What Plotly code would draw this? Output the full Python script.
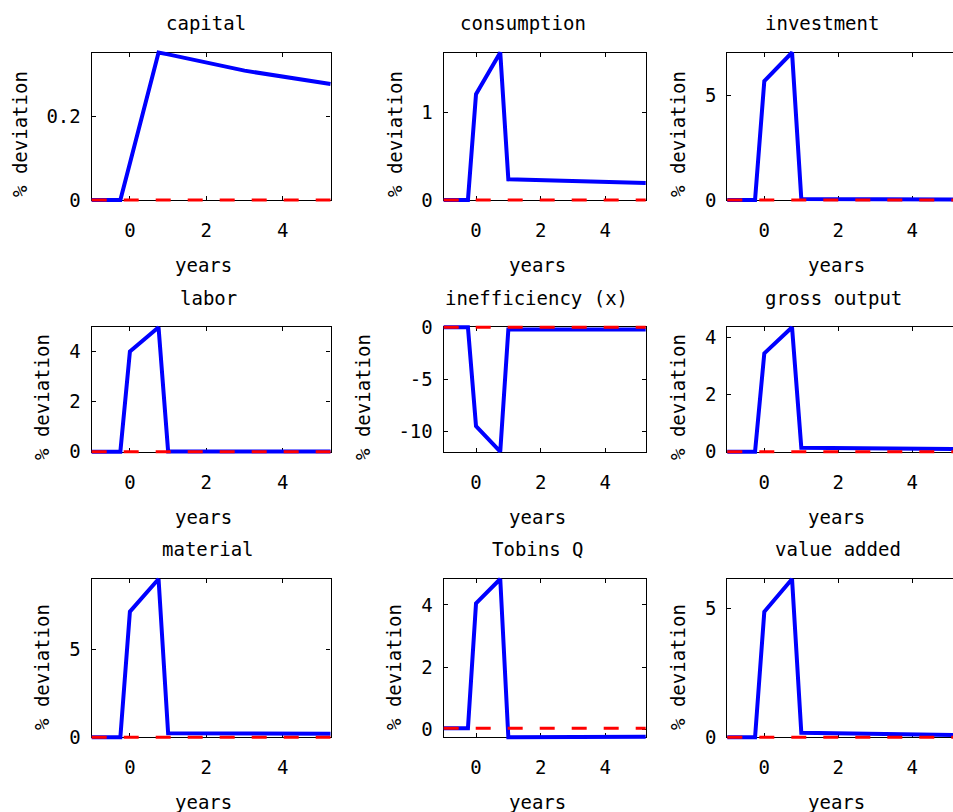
import plotly.graph_objects as go

# ---------------- data ----------------
years = [-1, -0.25, 0, 0.75, 1, 3, 5.25]

capital      = [0, 0, 0.088, 0.3535, 0.349, 0.31, 0.278]
consumption  = [0, 0, 1.214, 1.692, 0.237, 0.215, 0.195]
investment   = [0, 0, 5.67, 7.03, 0.05, 0.03, 0.02]
labor        = [0, 0, 4.0, 4.97, 0.01, 0.01, 0.01]
inefficiency = [0, 0, -9.46, -11.9, -0.22, -0.22, -0.22]
gross_output = [0, 0, 3.45, 4.365, 0.14, 0.12, 0.095]
material     = [0, 0, 7.14, 8.99, 0.23, 0.21, 0.20]
tobins_q     = [0.04, 0.04, 4.05, 4.83, -0.25, -0.24, -0.23]
value_added  = [0, 0, 4.87, 6.14, 0.18, 0.13, 0.09]

baseline_x = [-1, 5.25]
baseline_y = [0, 0]
tobins_baseline_y = [0.04, 0.04]

titles = ["capital", "consumption", "investment",
          "labor", "inefficiency (x)", "gross output",
          "material", "Tobins Q", "value added"]
series = [capital, consumption, investment,
          labor, inefficiency, gross_output,
          material, tobins_q, value_added]
baselines = [baseline_y] * 7 + [tobins_baseline_y, baseline_y]
y_ticks = [[0, 0.2], [0, 1], [0, 5],
           [0, 2, 4], [-10, -5, 0], [0, 2, 4],
           [0, 5], [0, 2, 4], [0, 5]]
y_ticktext = [["0", "0.2"], ["0", "1"], ["0", "5"],
              ["0", "2", "4"], ["-10", "-5", "0"], ["0", "2", "4"],
              ["0", "5"], ["0", "2", "4"], ["0", "5"]]
x_ticks = [0, 2, 4]
x_label = "years"
y_label = "% deviation"

# ---------------- layout geometry (pixels) ----------------
W, H = 953, 812
cols_px = [(91.7, 330.5), (443.7, 645.7), (727.3, 953.0)]
rows_px = [(52.5, 200.0), (327.3, 451.7), (579.0, 737.3)]
x_ranges = [[-1, 5.25], [-1, 5.25], [-1, 5.10]]
PAD = 4  # slack so lines on the box edges are not clipped

title_x = [206, 522.5, 821.7, 208, 536.7, 833.3, 208, 537.5, 838]
title_y = [23, 23, 23, 297.5, 297.5, 297.5, 549, 549, 549]
xlab_x = [203, 537, 836]
xlab_y = [265, 517, 802]
ylab_x = [20, 395, 678, 42, 363, 678, 42, 394, 678]
ylab_y = [134, 134, 134, 397, 397, 397, 667, 667, 667]

FONT = "DejaVu Sans Mono, Liberation Mono, monospace"
FS = 19

def px_x(v):
    return v / W

def px_y(v):
    return 1 - v / H

fig = go.Figure()
layout = dict(
    template="none",
    width=W, height=H, autosize=False,
    margin=dict(l=0, r=0, t=0, b=0, pad=0),
    paper_bgcolor="white", plot_bgcolor="rgba(0,0,0,0)",
    showlegend=False,
    font=dict(family=FONT, size=FS, color="black"),
)
annotations = []
N = len(series)

for i, (ttl, vals) in enumerate(zip(titles, series)):
    r, c = divmod(i, 3)
    n = i + 1
    xa = "x" if n == 1 else f"x{n}"
    ya = "y" if n == 1 else f"y{n}"
    m = n + N  # overlay (invisible) axes used to draw the lines
    oxa, oya = f"x{m}", f"y{m}"
    x0, x1 = cols_px[c]
    y0, y1 = rows_px[r]
    xr0, xr1 = x_ranges[c]
    ymin = min(min(vals), min(baselines[i]))
    ymax = max(max(vals), max(baselines[i]))

    # visible box axes (an invisible copy of the baseline keeps the subplot alive)
    fig.add_trace(go.Scatter(x=baseline_x, y=baselines[i], xaxis=xa, yaxis=ya, mode="lines",
                             line=dict(color="rgba(0,0,0,0)", width=0), hoverinfo="skip"))
    layout["xaxis" if n == 1 else f"xaxis{n}"] = dict(
        domain=[px_x(x0), px_x(x1)], range=[xr0, xr1], anchor=ya, automargin=False,
        tickvals=x_ticks, ticktext=[str(t) for t in x_ticks],
        ticks="inside", ticklen=4, tickwidth=1, tickcolor="black",
        showline=True, linecolor="black", linewidth=1.3, mirror="ticks",
        showgrid=False, zeroline=False, ticklabelstandoff=13,
        tickfont=dict(family=FONT, size=FS, color="black"),
    )
    layout["yaxis" if n == 1 else f"yaxis{n}"] = dict(
        domain=[px_y(y1), px_y(y0)], range=[ymin, ymax], anchor=xa, automargin=False,
        tickvals=y_ticks[i], ticktext=y_ticktext[i],
        ticks="inside", ticklen=4, tickwidth=1, tickcolor="black",
        showline=True, linecolor="black", linewidth=1.3,
        mirror=("ticks" if c < 2 else False),
        showgrid=False, zeroline=False, ticklabelstandoff=6,
        tickfont=dict(family=FONT, size=FS, color="black"),
    )

    # overlay axes: same pixel scale, a few pixels larger
    ppx = (x1 - x0) / (xr1 - xr0)
    ppy = (y1 - y0) / (ymax - ymin)
    ox0, ox1 = x0 - PAD, min(x1 + PAD, W)
    oy0, oy1 = y0 - PAD, y1 + PAD
    layout[f"xaxis{m}"] = dict(
        domain=[px_x(ox0), px_x(ox1)],
        range=[xr0 - (x0 - ox0) / ppx, xr1 + (ox1 - x1) / ppx],
        anchor=oya, visible=False, showgrid=False, zeroline=False, automargin=False,
    )
    layout[f"yaxis{m}"] = dict(
        domain=[px_y(oy1), px_y(oy0)],
        range=[ymin - (oy1 - y1) / ppy, ymax + (y0 - oy0) / ppy],
        anchor=oxa, visible=False, showgrid=False, zeroline=False, automargin=False,
    )
    fig.add_trace(go.Scatter(x=years, y=vals, xaxis=oxa, yaxis=oya, mode="lines",
                             line=dict(color="#0000ff", width=4), hoverinfo="skip"))
    fig.add_trace(go.Scatter(x=baseline_x, y=baselines[i], xaxis=oxa, yaxis=oya, mode="lines",
                             line=dict(color="#ff0000", width=3, dash="15px,17px"),
                             hoverinfo="skip"))

    annotations.append(dict(text=ttl, x=px_x(title_x[i]), y=px_y(title_y[i]),
                            xref="paper", yref="paper", xanchor="center", yanchor="middle",
                            showarrow=False, font=dict(family=FONT, size=FS, color="black")))
    annotations.append(dict(text=x_label, x=px_x(xlab_x[c]), y=px_y(xlab_y[r]),
                            xref="paper", yref="paper", xanchor="center", yanchor="middle",
                            showarrow=False, font=dict(family=FONT, size=FS, color="black")))
    annotations.append(dict(text=y_label, x=px_x(ylab_x[i]), y=px_y(ylab_y[i]),
                            xref="paper", yref="paper", xanchor="center", yanchor="middle",
                            textangle=-90, showarrow=False,
                            font=dict(family=FONT, size=FS, color="black")))

layout["annotations"] = annotations
fig.update_layout(**layout)
fig.write_html(
    "out.html",
    config={"displayModeBar": False},
    post_script=(
        "document.documentElement.style.margin='0';"
        "document.documentElement.style.overflow='hidden';"
        "document.body.style.margin='0';document.body.style.overflow='hidden';"
        "var gd=document.getElementById('{plot_id}');"
        "gd.style.position='absolute';gd.style.top='0px';gd.style.left='0px';"
    ),
)
